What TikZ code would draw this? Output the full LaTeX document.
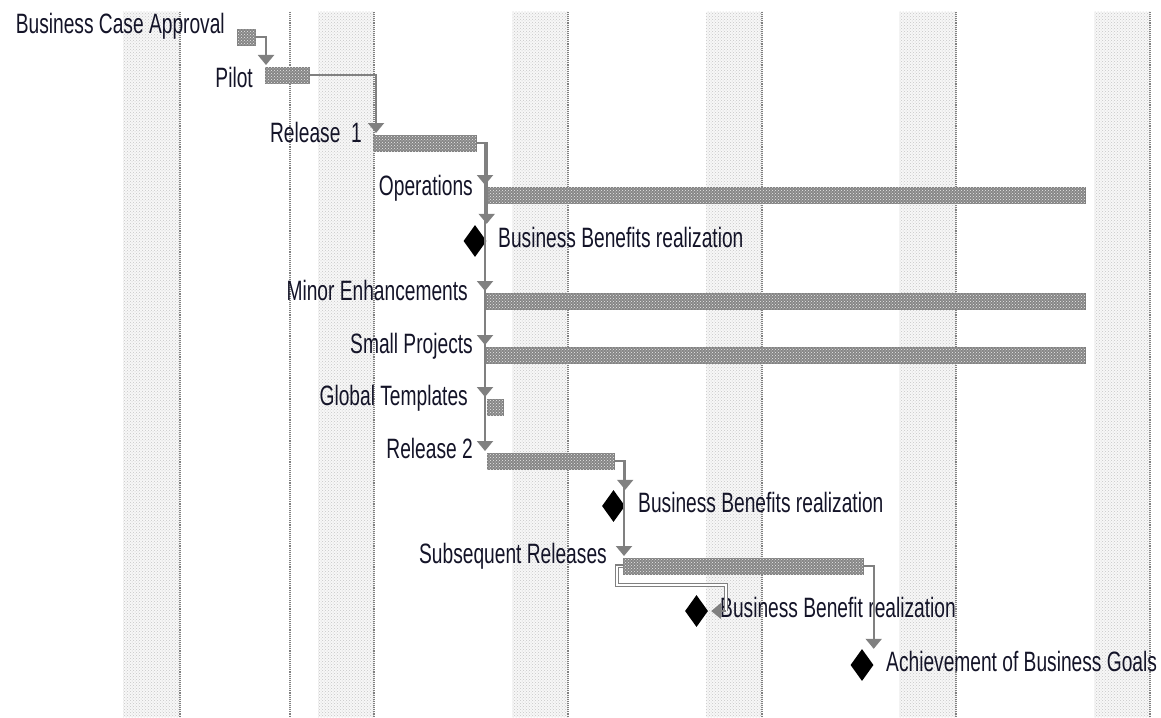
\documentclass[tikz,border=0pt]{standalone}
\usepackage{fontspec}
\setmainfont{Liberation Sans}
\newfontfamily\lblfont[FakeStretch=0.685]{Liberation Sans}
\usetikzlibrary{arrows.meta,shapes.geometric,patterns,calc}
\definecolor{lnk}{HTML}{808080}
\definecolor{barfill}{HTML}{868686}
\definecolor{txt}{HTML}{141428}
\begin{document}
\begin{tikzpicture}[x=1pt,y=-1pt,
  band/.style={fill=black!3, postaction={pattern=crosshatch dots, pattern color=black!22}},
  bandedge/.style={draw=black!50, line width=1.1pt, densely dotted},
  bar/.style={rectangle, anchor=north west, inner sep=0pt, minimum height=16pt,
              draw=lnk, line width=0.8pt, fill=barfill,
              postaction={pattern=crosshatch dots, pattern color=black!8}},
  ms/.style={diamond, fill=black, inner sep=0pt, minimum width=23pt, minimum height=32pt},
  lbl/.style={inner sep=0pt, text=txt, font=\lblfont\fontsize{28}{32}\selectfont},
  conn/.style={draw=lnk, line width=2pt, -{Triangle[width=16pt,length=10pt]}, shorten >=2pt},
  hollow/.style={draw=lnk, line width=1.2pt, double=white, double distance=1.6pt}
]
\useasboundingbox (0,0) rectangle (1161,717);
\fill[white] (0,0) rectangle (1161,717);

% timescale shading
\foreach \a/\b in {123/180,318/374,512/568,706/762,899/956,1094/1150}{
  \fill[band] (\a,12) rectangle (\b,717);
  \draw[bandedge] (\b,12) -- (\b,717);
}
\draw[bandedge] (290,12) -- (290,717);

% bars
\node[bar, minimum width=18pt]  (bca)   at (237,29)  {};
\node[bar, minimum width=44pt]  (pilot) at (265,67)  {};
\node[bar, minimum width=103pt] (rel1)  at (373,135) {};
\node[bar, minimum width=600pt] (ops)   at (485,187) {};
\node[bar, minimum width=599pt] (minor) at (486,293) {};
\node[bar, minimum width=599pt] (small) at (486,347) {};
\node[bar, minimum width=16pt]  (glob)  at (487,399) {};
\node[bar, minimum width=127pt] (rel2)  at (487,453) {};
\node[bar, minimum width=240pt] (subs)  at (623,558) {};

% milestones
\node[ms] (bb1) at (475,241) {};
\node[ms] (bb2) at (613.5,506) {};
\node[ms] (bb3) at (696.5,611) {};
\node[ms] (ach) at (862,665) {};

% labels
\node[lbl, anchor=base east] (lbca)   at (225,34)  {Business Case Approval};
\node[lbl, anchor=base east] (lpilot) at (253,88)  {Pilot};
\node[lbl, anchor=base east] (lrel1)  at (362,142) {Release\ \ 1};
\node[lbl, anchor=base east] (lops)   at (473,195) {Operations};
\node[lbl, anchor=base west] (lbb1)   at (498,247) {Business Benefits realization};
\node[lbl, anchor=base east] (lminor) at (468,300) {Minor Enhancements};
\node[lbl, anchor=base east] (lsmall) at (473,353) {Small Projects};
\node[lbl, anchor=base east] (lglob)  at (468,405) {Global Templates};
\node[lbl, anchor=base east] (lrel2)  at (473,458) {Release 2};
\node[lbl, anchor=base west] (lbb2)   at (638,512) {Business Benefits realization};
\node[lbl, anchor=base east] (lsubs)  at (607,563) {Subsequent Releases};
\node[lbl, anchor=base west] (lbb3)   at (720,617) {Business Benefit realization};
\node[lbl, anchor=base west] (lach)   at (886,671) {Achievement of Business Goals};

% links
\draw[conn] (bca.east) -| ([xshift=1pt]pilot.north west);
\draw[conn] (pilot.east) -| ([xshift=3pt]rel1.north west);
\draw[conn] (rel1.east) -| (ops.north west);
\draw[conn, shorten >=1pt] (rel1.east) -| (bb1.north -| bb1.east);
\draw[conn] (rel1.east) -| ([xshift=-1pt]minor.north west);
\draw[conn] (rel1.east) -| ([xshift=-1pt]small.north west);
\draw[conn] (rel1.east) -| ([xshift=-2pt]glob.north west);
\draw[conn] (rel1.east) -| ([xshift=-2pt]rel2.north west);
\draw[conn, shorten >=0pt] (rel2.east) -| (bb2.north -| bb2.east);
\draw[conn] (rel2.east) -| ([xshift=1pt]subs.north west);
\coordinate (k0) at ([xshift=-6pt]subs.west);
\coordinate (k1) at (726,585);
\coordinate (k2) at (k1 |- bb3.east);
\draw[hollow] (subs.west) -- (k0) |- (k1) -- (k2);
\draw[conn, shorten >=3pt] (k2) -- (bb3.east);
\draw[conn, shorten >=0pt] (subs.east) -| (ach.north -| ach.east);
\end{tikzpicture}
\end{document}
